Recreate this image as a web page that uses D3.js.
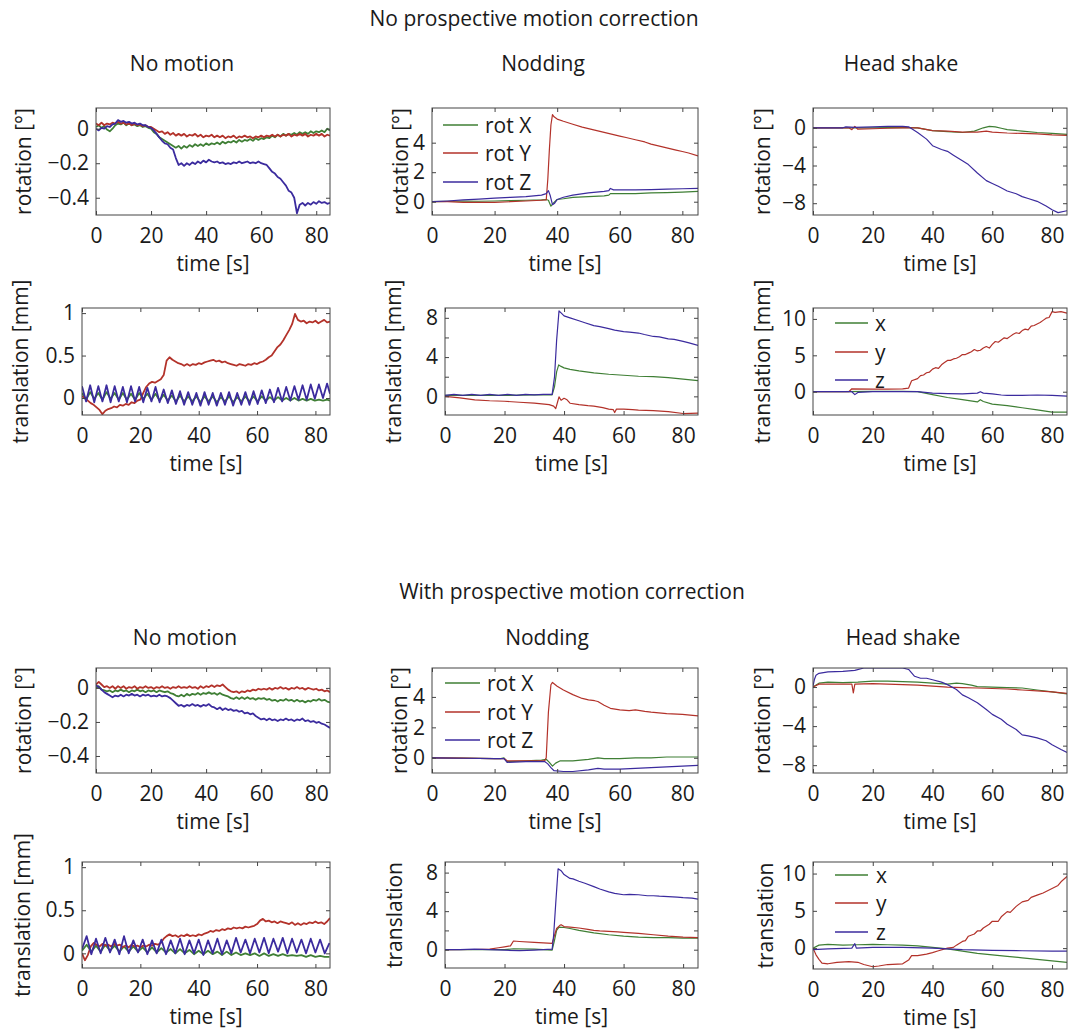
<!DOCTYPE html>
<html>
<head>
<meta charset="utf-8">
<script src="https://cdn.jsdelivr.net/npm/d3@7"></script>
<style>
  body { margin: 0; background: #fff; }
  svg text { font-family: "Open Sans", "DejaVu Sans", sans-serif; fill: #1a1a1a; }
</style>
</head>
<body>
<svg id="fig" width="1068" height="1032"></svg>
<script>
/* ── sample grids (s) ─────────────────────────────────────────── */
const seconds = [0,1,2,3,4,5,6,7,8,9,10,11,12,13,14,15,16,17,18,19,20,21,22,23,24,25,26,27,28,29,30,31,32,33,34,35,36,37,38,39,40,41,42,43,44,45,46,47,48,49,50,51,52,53,54,55,56,57,58,59,60,61,62,63,64,65,66,67,68,69,70,71,72,73,74,75,76,77,78,79,80,81,82,83,84,85];
const breathA = [0,1.4,2.8,4.2,5.6,7,8.4,9.8,11.2,12.6,14,15.4,16.8,18.2,19.6,21,22.4,23.8,25.2,26.6,28,29.4,30.8,32.2,33.6,35,36.4,37.8,39.2,40.6,42,43.4,44.8,46.2,47.6,49,50.4,51.8,53.2,54.6,56,57.4,58.8,60.2,61.6,63,64.4,65.8,67.2,68.6,70,71.4,72.8,74.2,75.6,77,78.4,79.8,81.2,82.6,84,85];
const breathB = [0,1.6,3.2,4.8,6.4,8,9.6,11.2,12.8,14.4,16,17.6,19.2,20.8,22.4,24,25.6,27.2,28.8,30.4,32,33.6,35.2,36.8,38.4,40,41.6,43.2,44.8,46.4,48,49.6,51.2,52.8,54.4,56,57.6,59.2,60.8,62.4,64,65.6,67.2,68.8,70.4,72,73.6,75.2,76.8,78.4,80,81.6,83.2,84.8];

/* ── tick values ─────────────────────────────────────────────── */
const timeTicks = [0, 20, 40, 60, 80];
const stillRotTicks = [-0.4, -0.2, 0];
const stillTransTicks = [0, 0.5, 1];
const nodRotTicks = [0, 2, 4];
const nodTransTicks = [0, 2, 4, 6, 8];
const nodTransLabels = [0, 4, 8];
const shakeRotTicks = [-8, -6, -4, -2, 0];
const shakeRotLabels = [-8, -4, 0];
const shakeTransTicks = [0, 5, 10];

const rotNames = ['rot X', 'rot Y', 'rot Z'];
const transNames = ['x', 'y', 'z'];

/* ── NO correction, no motion (per second / per half breath) ─── */
const ncStillRotX = [0.01,0.02,0.005,0.015,-0.005,-0.015,0,0.02,0.03,0.025,0.035,0.02,0.03,0.02,0.025,0.015,0.02,0.01,0.015,0.005,0,-0.02,-0.03,-0.05,-0.06,-0.07,-0.08,-0.09,-0.1,-0.11,-0.1,-0.115,-0.1,-0.11,-0.095,-0.105,-0.09,-0.1,-0.09,-0.1,-0.085,-0.095,-0.085,-0.09,-0.08,-0.09,-0.075,-0.085,-0.075,-0.08,-0.07,-0.08,-0.065,-0.075,-0.065,-0.07,-0.06,-0.07,-0.055,-0.065,-0.055,-0.06,-0.05,-0.055,-0.04,-0.05,-0.035,-0.045,-0.03,-0.04,-0.03,-0.035,-0.025,-0.035,-0.02,-0.03,-0.02,-0.03,-0.015,-0.025,-0.015,-0.02,-0.01,-0.02,0,-0.01];
const ncStillRotY = [0.03,0.02,0.035,0.02,0.03,0.025,0.035,0.03,0.04,0.03,0.035,0.025,0.03,0.02,0.03,0.02,0.025,0.015,0.02,0.01,0.01,0,-0.01,-0.02,-0.015,-0.03,-0.02,-0.035,-0.025,-0.04,-0.03,-0.04,-0.03,-0.045,-0.035,-0.04,-0.03,-0.045,-0.035,-0.05,-0.04,-0.045,-0.035,-0.05,-0.04,-0.05,-0.04,-0.055,-0.045,-0.05,-0.04,-0.055,-0.045,-0.05,-0.04,-0.05,-0.045,-0.055,-0.045,-0.05,-0.04,-0.05,-0.04,-0.045,-0.035,-0.045,-0.035,-0.045,-0.035,-0.04,-0.03,-0.045,-0.035,-0.04,-0.03,-0.04,-0.03,-0.045,-0.035,-0.04,-0.03,-0.04,-0.03,-0.045,-0.035,-0.04];
const ncStillRotZ = [0,-0.01,0.005,0,0.015,0.01,0.025,0.03,0.05,0.04,0.045,0.035,0.04,0.03,0.035,0.025,0.03,0.02,0.02,0.01,0.005,-0.01,-0.03,-0.05,-0.07,-0.085,-0.09,-0.11,-0.12,-0.17,-0.21,-0.2,-0.215,-0.2,-0.21,-0.195,-0.205,-0.19,-0.2,-0.185,-0.195,-0.18,-0.19,-0.195,-0.19,-0.2,-0.195,-0.205,-0.2,-0.205,-0.195,-0.2,-0.19,-0.2,-0.195,-0.19,-0.2,-0.195,-0.2,-0.19,-0.2,-0.205,-0.21,-0.23,-0.25,-0.26,-0.28,-0.29,-0.31,-0.33,-0.36,-0.37,-0.4,-0.49,-0.44,-0.43,-0.445,-0.43,-0.44,-0.425,-0.435,-0.42,-0.43,-0.425,-0.435,-0.43];
const ncStillTransX = [0.06,-0.02,0.07,-0.01,0.06,-0.02,0.07,-0.01,0.06,-0.02,0.06,-0.02,0.05,-0.02,0.06,-0.01,0.05,-0.02,0.05,-0.03,0.04,-0.03,0.03,-0.04,0.03,-0.04,0.02,-0.04,0.02,-0.05,0.02,-0.04,0.02,-0.05,0.01,-0.04,0.02,-0.05,0.01,-0.04,0.02,-0.04,0.02,-0.04,0.02,-0.03,0.01,-0.03,0.01,-0.03,0,-0.03,0,-0.03,-0.01,-0.03,-0.01,-0.03,-0.02,-0.03,-0.02,-0.03];
const ncStillTransY = [0.02,0,-0.03,-0.06,-0.08,-0.11,-0.14,-0.19,-0.15,-0.13,-0.12,-0.1,-0.11,-0.08,-0.09,-0.07,-0.08,-0.05,-0.06,-0.03,-0.02,0.06,0.13,0.17,0.19,0.18,0.2,0.22,0.27,0.44,0.48,0.45,0.43,0.41,0.4,0.38,0.4,0.38,0.4,0.39,0.41,0.4,0.42,0.43,0.44,0.45,0.43,0.44,0.42,0.43,0.41,0.4,0.39,0.38,0.4,0.39,0.38,0.4,0.39,0.41,0.4,0.42,0.43,0.45,0.48,0.5,0.55,0.6,0.63,0.68,0.74,0.8,0.87,0.99,0.92,0.9,0.91,0.88,0.9,0.89,0.91,0.88,0.9,0.92,0.89,0.9];
const ncStillTransZ = [0.14,-0.04,0.15,-0.05,0.14,-0.04,0.15,-0.05,0.14,-0.04,0.13,-0.05,0.14,-0.04,0.13,-0.05,0.12,-0.04,0.13,-0.05,0.1,-0.06,0.09,-0.07,0.08,-0.08,0.07,-0.08,0.06,-0.09,0.07,-0.08,0.06,-0.09,0.06,-0.08,0.07,-0.09,0.06,-0.08,0.07,-0.08,0.08,-0.07,0.09,-0.06,0.1,-0.05,0.12,-0.04,0.13,-0.03,0.14,-0.02,0.15,-0.02,0.16,-0.01,0.16,0,0.17,0.05];

/* ── NO correction, nodding ([t, value]) ─────────────────────── */
const ncNodRotX = [[0,0],[5,0.02],[10,0.05],[15,0.03],[20,0.05],[25,0.08],[30,0.1],[35,0.12],[36.5,0.15],[37.2,0.1],[38,-0.3],[39,-0.05],[40,0.15],[42,0.2],[45,0.3],[50,0.35],[55,0.4],[56.5,0.45],[57,0.55],[60,0.55],[65,0.55],[70,0.6],[75,0.62],[80,0.65],[85,0.7]];
const ncNodRotY = [[0,0],[5,0],[10,-0.05],[15,-0.05],[20,-0.05],[25,0],[30,0.05],[35,0.1],[36.5,0.12],[37,1.5],[37.5,3.5],[38,5.2],[38.5,5.9],[39,5.75],[40,5.6],[42,5.45],[45,5.25],[48,5.05],[50,4.95],[52,4.85],[55,4.7],[58,4.55],[60,4.45],[62,4.35],[65,4.2],[68,4.05],[70,3.9],[72,3.8],[75,3.65],[78,3.5],[80,3.4],[82,3.3],[85,3.1]];
const ncNodRotZ = [[0,0],[5,0.05],[10,0.12],[15,0.18],[20,0.25],[25,0.3],[30,0.35],[35,0.45],[36.5,0.55],[37.2,0.75],[37.8,0.4],[38.5,-0.2],[39.2,-0.1],[40,0.15],[42,0.3],[45,0.45],[50,0.6],[55,0.7],[56.5,0.75],[57,0.9],[58,0.8],[60,0.8],[65,0.8],[70,0.82],[75,0.85],[80,0.88],[85,0.9]];
const ncNodTransX = [[0,0.1],[10,0.1],[20,0.1],[30,0.15],[36,0.15],[36.8,1.0],[37.5,2.5],[38.2,3.2],[39,3.05],[40,2.9],[42,2.75],[45,2.6],[50,2.4],[55,2.25],[60,2.15],[65,2.05],[70,2.0],[75,1.9],[80,1.75],[85,1.6]];
const ncNodTransY = [[0,0],[5,-0.15],[10,-0.35],[15,-0.45],[20,-0.5],[25,-0.6],[30,-0.7],[35,-0.85],[36.5,-1.0],[37.2,-1.25],[37.8,-0.6],[38.3,-0.05],[39,-0.4],[40,-0.2],[41,-0.35],[42,-0.7],[45,-0.85],[48,-0.95],[50,-1.0],[53,-1.15],[55,-1.3],[56.5,-1.35],[57,-1.65],[57.6,-1.3],[60,-1.3],[63,-1.35],[65,-1.4],[70,-1.45],[75,-1.55],[80,-1.75],[85,-1.7]];
const ncNodTransZ = [[0,0.1],[3,0.2],[6,0.1],[9,0.2],[12,0.1],[15,0.2],[18,0.1],[21,0.2],[24,0.1],[27,0.2],[30,0.15],[33,0.2],[36,0.2],[36.8,2.0],[37.5,5.7],[38.3,8.7],[39,8.5],[40,8.2],[42,8.0],[45,7.7],[47,7.5],[50,7.2],[52,7.1],[55,6.9],[57,6.75],[60,6.6],[62,6.55],[65,6.45],[67,6.3],[70,6.1],[72,6.05],[75,5.85],[77,5.8],[80,5.6],[82,5.45],[85,5.2]];

/* ── NO correction, head shake ───────────────────────────────── */
const ncShakeRotX = [[0,0],[10,0],[20,0],[30,0.05],[35,0],[40,-0.3],[45,-0.4],[50,-0.5],[54,-0.35],[57,0],[59,0.15],[61,0.1],[63,-0.05],[65,-0.2],[70,-0.35],[75,-0.5],[80,-0.6],[85,-0.7]];
const ncShakeRotY = [[0,0],[12,0],[13,-0.2],[14,0.15],[15,-0.15],[20,-0.1],[25,-0.05],[30,0],[35,0],[40,-0.3],[45,-0.35],[50,-0.45],[55,-0.45],[58,-0.35],[60,-0.45],[65,-0.55],[70,-0.6],[75,-0.65],[80,-0.75],[85,-0.8]];
const ncShakeRotZ = [[0,0],[10,0],[11,0.1],[14,0.05],[20,0.1],[25,0.15],[30,0.15],[32,0.1],[35,-0.5],[38,-1.2],[40,-1.9],[43,-2.3],[45,-2.5],[47,-2.9],[50,-3.5],[52,-3.9],[55,-4.8],[58,-5.6],[60,-5.9],[62,-6.2],[65,-6.7],[68,-7.0],[70,-7.3],[72,-7.5],[75,-7.8],[78,-8.3],[80,-8.7],[82,-9.0],[85,-8.8]];
const ncShakeTransX = [[0,0],[10,0],[20,0.05],[30,0.05],[35,0],[40,-0.4],[45,-0.8],[50,-1.1],[55,-1.4],[56,-1.1],[57,-1.35],[60,-1.7],[65,-1.9],[70,-2.2],[75,-2.5],[80,-2.8],[85,-2.8]];
const ncShakeTransY = [[0,0],[12,0],[13,0.4],[20,0.35],[25,0.35],[30,0.4],[32,0.5],[33,1.5],[35,1.8],[36,2.2],[37,2.3],[38,2.6],[39,2.7],[40,3.1],[41,3.3],[42,3.2],[43,3.7],[44,4.0],[45,4.3],[46,4.3],[47,4.5],[48,4.6],[49,4.8],[50,5.1],[51,5.1],[52,5.3],[53,5.5],[54,5.8],[55,5.6],[56,5.7],[57,6.0],[58,6.2],[59,6.0],[60,6.5],[61,6.9],[62,6.8],[63,7.1],[64,7.4],[65,7.3],[66,7.6],[67,7.9],[68,8.1],[69,8.0],[70,8.4],[71,8.6],[72,8.5],[73,9.0],[74,9.1],[75,9.3],[76,9.5],[77,9.8],[78,10.1],[79,10.2],[80,11.0],[81,10.9],[83,11.0],[85,10.8]];
const ncShakeTransZ = [[0,0],[13,0],[14,-0.4],[15,-0.1],[20,0],[25,0],[30,0],[35,0],[40,-0.2],[45,-0.25],[50,-0.3],[55,-0.2],[56,0],[57,-0.2],[60,-0.3],[63,-0.45],[65,-0.5],[70,-0.5],[75,-0.45],[80,-0.5],[85,-0.6]];

/* ── WITH correction, no motion ──────────────────────────────── */
const pcStillRotX = [0,0.01,-0.01,-0.015,-0.02,-0.015,-0.025,-0.015,-0.02,-0.01,-0.02,-0.015,-0.025,-0.015,-0.02,-0.01,-0.02,-0.015,-0.025,-0.015,-0.02,-0.015,-0.025,-0.015,-0.02,-0.025,-0.02,-0.03,-0.035,-0.045,-0.05,-0.04,-0.05,-0.035,-0.045,-0.035,-0.04,-0.03,-0.04,-0.03,-0.035,-0.025,-0.035,-0.03,-0.04,-0.03,-0.04,-0.045,-0.05,-0.06,-0.065,-0.055,-0.065,-0.055,-0.065,-0.055,-0.065,-0.06,-0.07,-0.06,-0.065,-0.06,-0.07,-0.065,-0.075,-0.07,-0.08,-0.07,-0.075,-0.065,-0.075,-0.07,-0.08,-0.07,-0.08,-0.075,-0.085,-0.075,-0.08,-0.07,-0.075,-0.065,-0.075,-0.07,-0.08,-0.085];
const pcStillRotY = [0.02,0.035,0.02,0.005,0.01,0,0.01,-0.005,0.01,0,0.01,-0.005,0.005,0,0.01,-0.005,0.005,0,0.01,0,0.005,-0.005,0.005,0,0.01,0,0.005,-0.005,0.005,0,0.01,0,0.005,0,0.01,0,0.005,-0.005,0.01,0,0.01,0.005,0.015,0.005,0.015,0.01,0.02,0.005,-0.01,-0.02,-0.025,-0.02,-0.03,-0.02,-0.025,-0.015,-0.02,-0.01,-0.015,-0.005,-0.01,-0.005,-0.01,0,-0.01,0,-0.005,0.005,-0.005,0,-0.01,0,-0.005,0.005,-0.005,0,-0.01,0,-0.005,-0.01,-0.005,-0.015,-0.01,-0.02,-0.015,-0.025];
const pcStillRotZ = [0.015,0.005,-0.01,-0.025,-0.035,-0.045,-0.055,-0.045,-0.05,-0.04,-0.05,-0.04,-0.045,-0.035,-0.045,-0.04,-0.05,-0.04,-0.045,-0.04,-0.05,-0.045,-0.05,-0.04,-0.05,-0.045,-0.05,-0.06,-0.075,-0.09,-0.105,-0.1,-0.11,-0.1,-0.105,-0.095,-0.105,-0.1,-0.11,-0.1,-0.105,-0.095,-0.11,-0.115,-0.125,-0.115,-0.13,-0.12,-0.13,-0.125,-0.135,-0.13,-0.14,-0.135,-0.15,-0.145,-0.155,-0.15,-0.165,-0.175,-0.185,-0.18,-0.19,-0.18,-0.19,-0.185,-0.195,-0.185,-0.19,-0.18,-0.19,-0.185,-0.195,-0.185,-0.19,-0.18,-0.195,-0.19,-0.2,-0.195,-0.205,-0.2,-0.21,-0.215,-0.225,-0.235];
const pcStillTransX = [0.03,0.1,0.02,0.09,0.02,0.1,0.03,0.09,0.02,0.08,0.02,0.08,0.02,0.07,0.01,0.07,0.01,0.06,0.01,0.05,0,0.05,0,0.04,-0.01,0.03,-0.01,0.03,-0.01,0.02,-0.02,0.02,-0.02,0.01,-0.02,0,-0.02,0,-0.03,0,-0.03,-0.01,-0.03,-0.01,-0.03,-0.02,-0.03,-0.02,-0.04,-0.02,-0.04,-0.03,-0.04,-0.04];
const pcStillTransY = [0,-0.08,-0.02,0.08,0.12,0.1,0.08,0.11,0.09,0.1,0.08,0.11,0.09,0.1,0.07,0.09,0.07,0.1,0.08,0.09,0.07,0.09,0.08,0.1,0.09,0.11,0.1,0.12,0.17,0.2,0.22,0.2,0.21,0.19,0.21,0.2,0.22,0.2,0.21,0.2,0.22,0.21,0.23,0.24,0.26,0.25,0.27,0.26,0.28,0.27,0.29,0.28,0.3,0.29,0.3,0.29,0.31,0.3,0.31,0.32,0.34,0.38,0.4,0.37,0.38,0.36,0.37,0.35,0.37,0.36,0.35,0.34,0.36,0.33,0.35,0.33,0.35,0.34,0.36,0.35,0.37,0.35,0.36,0.34,0.37,0.41];
const pcStillTransZ = [0.05,0.2,-0.01,0.17,0,0.18,0.01,0.16,-0.01,0.2,0,0.15,0.01,0.16,-0.01,0.15,0,0.16,-0.01,0.15,0,0.17,-0.01,0.15,0,0.16,-0.02,0.15,0,0.17,-0.01,0.15,0,0.18,0.01,0.16,0,0.17,0.01,0.18,0,0.17,0.02,0.18,0,0.17,0.01,0.16,0,0.17,0.01,0.16,0,0.12];

/* ── WITH correction, nodding ────────────────────────────────── */
const pcNodRotX = [[0,0],[10,-0.02],[20,-0.05],[22,-0.05],[23,0],[24,-0.25],[30,-0.2],[35,-0.15],[36.5,-0.1],[37.5,-0.3],[38.5,-0.55],[39.5,-0.35],[41,-0.2],[45,-0.2],[50,-0.1],[53,0],[55,-0.05],[60,-0.05],[65,0],[70,0],[75,0.05],[80,0.05],[85,0.05]];
const pcNodRotY = [[0,0],[10,-0.02],[20,-0.05],[23,-0.05],[24,-0.2],[30,-0.2],[36,-0.2],[36.5,0],[37.2,3.0],[38,4.8],[38.5,4.95],[40,4.7],[42,4.45],[45,4.15],[48,3.9],[50,3.8],[52,3.75],[53,3.7],[55,3.45],[57,3.25],[60,3.15],[63,3.1],[65,3.15],[68,3.05],[70,3.0],[75,2.9],[80,2.85],[85,2.75]];
const pcNodRotZ = [[0,0],[10,-0.03],[20,-0.05],[23,-0.05],[24,-0.3],[30,-0.25],[36,-0.25],[37,-0.4],[38,-0.65],[39,-0.85],[42,-0.9],[45,-0.9],[50,-0.8],[53,-0.7],[55,-0.75],[60,-0.75],[65,-0.7],[70,-0.65],[75,-0.6],[80,-0.55],[85,-0.5]];
const pcNodTransX = [[0,0],[10,0],[20,0],[23,0.1],[30,0.05],[36,-0.05],[36.8,1.0],[37.5,2.0],[38.3,2.35],[40,2.3],[42,2.2],[45,2.0],[50,1.75],[55,1.55],[60,1.4],[65,1.3],[70,1.25],[75,1.25],[80,1.2],[85,1.2]];
const pcNodTransY = [[0,0],[10,0.02],[15,0.05],[18,0.2],[20,0.3],[22,0.4],[23,0.9],[25,0.85],[30,0.75],[36,0.65],[36.8,1.5],[37.5,2.2],[38.5,2.5],[39,2.6],[40,2.4],[42,2.35],[45,2.25],[48,2.1],[50,2.0],[52,1.95],[55,1.9],[58,1.85],[60,1.8],[65,1.7],[70,1.55],[75,1.4],[80,1.3],[85,1.25]];
const pcNodTransZ = [[0,0],[5,0],[10,0.05],[15,0],[20,-0.05],[25,-0.1],[30,-0.05],[36,0.05],[36.5,1.5],[37.2,4.8],[38,8.4],[39,8.2],[40,7.8],[41,7.6],[42,7.4],[43,7.35],[45,7.1],[47,6.9],[50,6.55],[52,6.3],[55,6.0],[57,5.85],[60,5.7],[62,5.75],[65,5.7],[68,5.6],[70,5.6],[72,5.55],[75,5.5],[78,5.45],[80,5.4],[83,5.35],[85,5.25]];

/* ── WITH correction, head shake ─────────────────────────────── */
const pcShakeRotX = [[0,0],[2,0.4],[5,0.5],[10,0.45],[15,0.5],[20,0.6],[25,0.6],[30,0.55],[35,0.5],[40,0.4],[45,0.3],[48,0.4],[50,0.35],[53,0.2],[55,0.05],[60,0],[65,-0.05],[70,-0.1],[75,-0.3],[80,-0.5],[85,-0.7]];
const pcShakeRotY = [[0,0],[2,0.3],[5,0.3],[13,0.3],[13.5,-0.6],[14,0.3],[20,0.35],[25,0.3],[30,0.25],[35,0.2],[40,0.1],[45,0],[50,-0.05],[55,-0.1],[60,-0.15],[65,-0.2],[70,-0.3],[75,-0.4],[80,-0.5],[85,-0.65]];
const pcShakeRotZ = [[0,0.1],[0.5,0.8],[1,1.2],[2,1.4],[5,1.55],[10,1.6],[14,1.7],[17,1.95],[20,1.95],[25,1.95],[30,1.95],[32,1.8],[34,1.1],[36,0.9],[38,0.9],[40,0.75],[43,0.5],[45,0.25],[48,-0.25],[50,-0.8],[52,-1.1],[55,-1.6],[58,-2.3],[60,-2.8],[63,-3.3],[65,-3.8],[68,-4.35],[70,-4.9],[72,-5.0],[75,-5.2],[78,-5.5],[80,-5.9],[83,-6.4],[85,-6.7]];
const pcShakeTransX = [[0,0],[2,0.4],[5,0.5],[10,0.4],[15,0.45],[20,0.5],[25,0.45],[30,0.4],[35,0.3],[40,0.1],[45,-0.1],[50,-0.4],[55,-0.7],[60,-0.9],[65,-1.1],[70,-1.3],[75,-1.5],[80,-1.7],[85,-1.9]];
const pcShakeTransY = [[0,0],[1,-0.9],[2,-1.5],[3,-2.0],[5,-2.1],[8,-1.9],[12,-1.8],[15,-1.9],[17,-2.2],[20,-2.5],[22,-2.4],[25,-2.2],[30,-2.1],[32,-1.6],[33,-1.0],[35,-1.0],[38,-0.8],[40,-0.6],[42,-0.35],[45,0],[47,0.1],[48,0.4],[50,0.9],[51,1.0],[52,1.6],[54,1.9],[55,2.3],[56,2.3],[57,2.7],[59,3.2],[60,3.6],[62,3.6],[63,4.2],[65,4.9],[66,4.8],[68,5.6],[70,6.2],[72,6.4],[73,6.8],[75,7.1],[77,7.4],[78,7.6],[80,8.0],[82,8.4],[83,8.9],[85,9.6]];
const pcShakeTransZ = [[0,-0.2],[5,-0.1],[13,0],[14,0.6],[14.5,0],[20,0.1],[30,0.1],[40,0],[45,-0.1],[50,-0.2],[60,-0.3],[70,-0.35],[80,-0.4],[85,-0.4]];

/* ── helpers ─────────────────────────────────────────────────── */
const onGrid = (times, vals) => d3.zip(times, vals);
const COLORS = ['#3f7f35', '#b3322a', '#3b2b9e'];   // x (green), y (red), z (blue)
const FS = 21;

const svg = d3.select('#fig');

/* ── panel layout: box = [left, top, right, bottom] ─────────── */
const panels = [
  { box:[96,108,330,215], y:[-0.5,0.12], ticks:stillRotTicks, labels:stillRotTicks, ylab:'rotation [°]', labX:23, lw:1.8,
    series:[onGrid(seconds,ncStillRotX), onGrid(seconds,ncStillRotY), onGrid(seconds,ncStillRotZ)] },
  { box:[82,308,330,415], y:[-0.2,1.06], ticks:stillTransTicks, labels:stillTransTicks, ylab:'translation [mm]', labX:20, lw:1.8,
    series:[onGrid(breathA,ncStillTransX), onGrid(seconds,ncStillTransY), onGrid(breathA,ncStillTransZ)] },
  { box:[432,108,698,215], y:[-0.9,6.35], ticks:nodRotTicks, labels:nodRotTicks, ylab:'rotation [°]', labX:400, lw:1.2,
    series:[ncNodRotX, ncNodRotY, ncNodRotZ], legend:{ names:rotNames, x0:443, x1:478, tx:485, ys:[125,153,182] } },
  { box:[445,308,698,415], y:[-1.9,9], ticks:nodTransTicks, labels:nodTransLabels, ylab:'translation [mm]', labX:393, lw:1.2,
    series:[ncNodTransX, ncNodTransY, ncNodTransZ] },
  { box:[813,108,1067,215], y:[-9.25,2.1], ticks:shakeRotTicks, labels:shakeRotLabels, ylab:'rotation [°]', labX:762, lw:1.2,
    series:[ncShakeRotX, ncShakeRotY, ncShakeRotZ] },
  { box:[813,308,1067,415], y:[-3.2,11.5], ticks:shakeTransTicks, labels:shakeTransTicks, ylab:'translation [mm]', labX:762, lw:1.2,
    series:[ncShakeTransX, ncShakeTransY, ncShakeTransZ], legend:{ names:transNames, x0:835, x1:868, tx:875, ys:[323,352,380] } },

  { box:[96,668,330,773], y:[-0.5,0.117], ticks:stillRotTicks, labels:stillRotTicks, ylab:'rotation [°]', labX:23, lw:1.8,
    series:[onGrid(seconds,pcStillRotX), onGrid(seconds,pcStillRotY), onGrid(seconds,pcStillRotZ)] },
  { box:[82,862,330,968], y:[-0.17,1.06], ticks:stillTransTicks, labels:stillTransTicks, ylab:'translation [mm]', labX:22, lw:1.8,
    series:[onGrid(breathB,pcStillTransX), onGrid(seconds,pcStillTransY), onGrid(breathB,pcStillTransZ)] },
  { box:[432,668,698,773], y:[-1,5.9], ticks:nodRotTicks, labels:nodRotTicks, ylab:'rotation [°]', labX:399, lw:1.2,
    series:[pcNodRotX, pcNodRotY, pcNodRotZ], legend:{ names:rotNames, x0:445, x1:480, tx:487, ys:[683,712,740] } },
  { box:[445,862,698,968], y:[-1.9,9.1], ticks:nodTransTicks, labels:nodTransLabels, ylab:'translation', labX:394, lw:1.2,
    series:[pcNodTransX, pcNodTransY, pcNodTransZ] },
  { box:[813,668,1067,773], y:[-8.8,1.95], ticks:shakeRotTicks, labels:shakeRotLabels, ylab:'rotation [°]', labX:762, lw:1.2,
    series:[pcShakeRotX, pcShakeRotY, pcShakeRotZ] },
  { box:[813,862,1067,969], y:[-2.8,11.55], ticks:shakeTransTicks, labels:shakeTransTicks, ylab:'translation', labX:765, lw:1.2,
    series:[pcShakeTransX, pcShakeTransY, pcShakeTransZ], legend:{ names:transNames, x0:835, x1:868, tx:876, ys:[875,903,932] } },
];

/* ── titles ──────────────────────────────────────────────────── */
const titles = [
  ['No prospective motion correction', 534, 18],
  ['No motion', 182, 63], ['Nodding', 543, 63], ['Head shake', 901, 63],
  ['With prospective motion correction', 572, 591],
  ['No motion', 185, 637], ['Nodding', 547, 637], ['Head shake', 903, 637],
];
svg.selectAll('text.title').data(titles).join('text')
  .attr('class', 'title')
  .attr('x', d => d[1]).attr('y', d => d[2])
  .attr('text-anchor', 'middle').attr('dominant-baseline', 'central')
  .attr('font-size', 21).text(d => d[0]);

const fmt = d3.format('~g');

function styleAxis(sel) {
  sel.select('.domain').remove();
  sel.selectAll('line').attr('stroke', '#444');
  sel.selectAll('text').attr('font-size', FS).attr('fill', '#1a1a1a')
     .attr('font-family', '"Open Sans", "DejaVu Sans", sans-serif');
}

panels.forEach((p, i) => {
  const [L, T, R, B] = p.box;
  const w = R - L, h = B - T;
  const x = d3.scaleLinear().domain([0, 85]).range([0, w]);
  const y = d3.scaleLinear().domain(p.y).range([h, 0]);
  const g = svg.append('g').attr('transform', `translate(${L},${T})`);

  g.append('clipPath').attr('id', `clip${i}`)
    .append('rect').attr('width', w).attr('height', h);

  /* data lines: x (green) → y (red) → z (blue) on top */
  const line = d3.line().x(d => x(d[0])).y(d => y(d[1]));
  const lines = g.append('g').attr('clip-path', `url(#clip${i})`);
  p.series.forEach((s, k) => {
    lines.append('path').datum(s)
      .attr('fill', 'none').attr('stroke', COLORS[k])
      .attr('stroke-width', p.lw).attr('stroke-linejoin', 'round')
      .attr('d', line);
  });

  /* axes, inward ticks on all four sides */
  g.append('g').attr('transform', `translate(0,${h})`)
    .call(d3.axisBottom(x).tickValues(timeTicks).tickSizeInner(-4).tickSizeOuter(0)
      .tickPadding(13).tickFormat(fmt))
    .call(styleAxis);
  g.append('g')
    .call(d3.axisTop(x).tickValues(timeTicks).tickSizeInner(-4).tickSizeOuter(0).tickFormat(''))
    .call(styleAxis);
  g.append('g')
    .call(d3.axisLeft(y).tickValues(p.ticks).tickSizeInner(-4).tickSizeOuter(0)
      .tickPadding(7).tickFormat(d => p.labels.includes(d) ? fmt(d) : ''))
    .call(styleAxis);
  g.append('g').attr('transform', `translate(${w},0)`)
    .call(d3.axisRight(y).tickValues(p.ticks).tickSizeInner(-4).tickSizeOuter(0).tickFormat(''))
    .call(styleAxis);

  g.append('rect').attr('width', w).attr('height', h)
    .attr('fill', 'none').attr('stroke', '#444').attr('stroke-width', 1);

  /* axis labels */
  svg.append('text')
    .attr('transform', `translate(${p.labX},${T + h / 2}) rotate(-90)`)
    .attr('text-anchor', 'middle').attr('dominant-baseline', 'central')
    .attr('font-size', FS).text(p.ylab);
  svg.append('text')
    .attr('x', L + w / 2).attr('y', B + 48)
    .attr('text-anchor', 'middle').attr('dominant-baseline', 'central')
    .attr('font-size', FS).text('time [s]');

  /* legend (no frame) */
  if (p.legend) {
    const lg = p.legend;
    lg.names.forEach((name, k) => {
      svg.append('line')
        .attr('x1', lg.x0).attr('x2', lg.x1).attr('y1', lg.ys[k]).attr('y2', lg.ys[k])
        .attr('stroke', COLORS[k]).attr('stroke-width', 1.3);
      svg.append('text')
        .attr('x', lg.tx).attr('y', lg.ys[k])
        .attr('dominant-baseline', 'central')
        .attr('font-size', FS).text(name);
    });
  }
});
</script>
</body>
</html>
